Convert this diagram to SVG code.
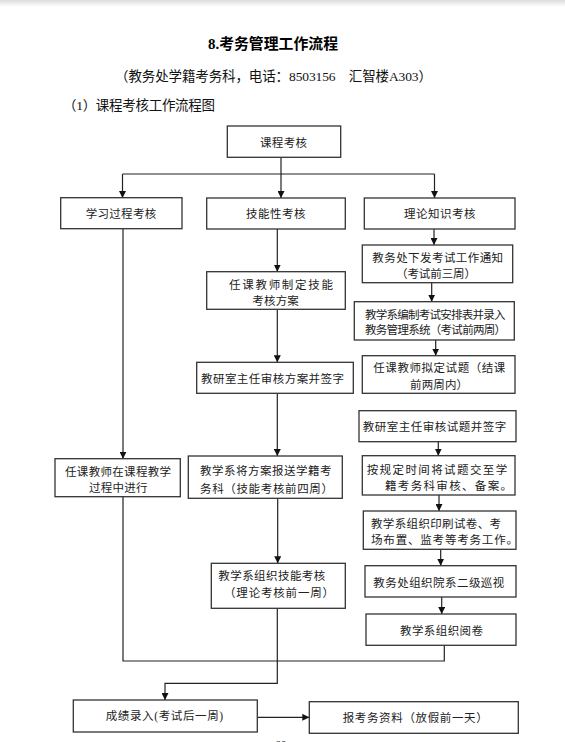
<svg xmlns="http://www.w3.org/2000/svg" width="565" height="742" viewBox="0 0 565 742">
<defs>
<linearGradient id="shade" x1="0" y1="0" x2="0" y2="1">
<stop offset="0" stop-color="#dcdcdc"/>
<stop offset="1" stop-color="#ffffff"/>
</linearGradient>
<marker id="arr" markerUnits="userSpaceOnUse" markerWidth="7" markerHeight="7" refX="7" refY="3.5" orient="auto">
<path d="M0,0 L7,3.5 L0,7 z" fill="#111"/>
</marker>
<style>
.box{fill:#fff;stroke:#333;stroke-width:1.3}
.t{font-family:"Liberation Serif","Noto Sans CJK SC",serif;font-size:11.5px;fill:#222}
.c{fill:none;stroke:#222;stroke-width:1.2}
.a{fill:none;stroke:#222;stroke-width:1.2;marker-end:url(#arr)}
.h1{font-family:"Liberation Serif","Noto Sans CJK SC",serif;font-size:15px;font-weight:bold;fill:#000}
.h2{font-family:"Liberation Serif","Noto Sans CJK SC",serif;font-size:13.5px;fill:#111}
</style>
</defs>
<rect x="0" y="0" width="565" height="742" fill="#fff"/>
<rect x="0" y="0" width="565" height="7" fill="url(#shade)"/>

<g id="header">
<text class="h1" x="208" y="48.5" textLength="130" lengthAdjust="spacingAndGlyphs">8.考务管理工作流程</text>
<text class="h2" x="115" y="81" textLength="317" lengthAdjust="spacing">（教务处学籍考务科，电话：8503156　汇智楼A303）</text>
<text class="h2" x="63" y="110" textLength="152" lengthAdjust="spacing">（1）课程考核工作流程图</text>
</g>

<g id="connectors">
<path class="c" d="M281,157 V174 M122.5,174 H434.5"/>
<path class="a" d="M122.5,174 V198"/>
<path class="a" d="M281,174 V198"/>
<path class="a" d="M434.5,174 V198"/>
<path class="a" d="M123,229 V458.7"/>
<path class="c" d="M123,497 V661 H444.3 V645.3"/>
<path class="a" d="M277.3,229 V271.7"/>
<path class="a" d="M277.3,309.3 V362.3"/>
<path class="a" d="M277.3,393.3 V456"/>
<path class="a" d="M277.7,498.3 V563.3"/>
<path class="a" d="M277.3,608.3 V683.3 H165 V700"/>
<path class="a" d="M434,229 V245"/>
<path class="a" d="M431.7,282.7 V301.7"/>
<path class="a" d="M435.7,340 V355.7"/>
<path class="a" d="M438.3,441.7 V455.7"/>
<path class="a" d="M439,495 V511"/>
<path class="a" d="M440.7,549.3 V565.7"/>
<path class="a" d="M441.7,597 V614"/>
<path class="a" d="M257.3,717.3 H309.3"/>
</g>

<g id="n-root">
<rect class="box" x="227.3" y="126" width="113.4" height="31.3"/>
<text class="t" x="260" y="146.7" textLength="47" lengthAdjust="spacing">课程考核</text>
</g>
<g id="n-learn">
<rect class="box" x="60.7" y="197.7" width="121.3" height="31"/>
<text class="t" x="85.7" y="218" textLength="70.5" lengthAdjust="spacing">学习过程考核</text>
</g>
<g id="n-skill">
<rect class="box" x="206.7" y="198" width="138.6" height="31"/>
<text class="t" x="246" y="218" textLength="59.5" lengthAdjust="spacing">技能性考核</text>
</g>
<g id="n-theory">
<rect class="box" x="364.3" y="198" width="150.7" height="31"/>
<text class="t" x="404" y="218" textLength="71.5" lengthAdjust="spacing">理论知识考核</text>
</g>

<g id="n-notice">
<rect class="box" x="362.3" y="245" width="150.4" height="37.7"/>
<text class="t" x="372.3" y="262" textLength="130.8" lengthAdjust="spacing">教务处下发考试工作通知</text>
<text class="t" x="396" y="278" textLength="80" lengthAdjust="spacing">（考试前三周）</text>
</g>
<g id="n-schedule">
<rect class="box" x="354.3" y="301.7" width="160" height="38.3"/>
<text class="t" x="365" y="319" textLength="140.5" lengthAdjust="spacing">教学系编制考试安排表并录入</text>
<text class="t" x="365" y="334" textLength="141" lengthAdjust="spacing">教务管理系统（考试前两周）</text>
</g>
<g id="n-draft">
<rect class="box" x="362.3" y="355.7" width="152.7" height="37.6"/>
<text class="t" x="373.3" y="372" textLength="132" lengthAdjust="spacing">任课教师拟定试题（结课</text>
<text class="t" x="410" y="389" textLength="58" lengthAdjust="spacing">前两周内）</text>
</g>
<g id="n-review-paper">
<rect class="box" x="359" y="410.7" width="157" height="31"/>
<text class="t" x="362.7" y="431" textLength="143.5" lengthAdjust="spacing">教研室主任审核试题并签字</text>
</g>
<g id="n-submit">
<rect class="box" x="362.3" y="455.7" width="152.7" height="39.3"/>
<text class="t" x="366.7" y="474" textLength="140.5" lengthAdjust="spacing">按规定时间将试题交至学</text>
<text class="t" x="385" y="490" textLength="127" lengthAdjust="spacing">籍考务科审核、备案。</text>
</g>
<g id="n-print">
<rect class="box" x="363.3" y="511" width="152.7" height="38.3"/>
<text class="t" x="371" y="528" textLength="130" lengthAdjust="spacing">教学系组织印刷试卷、考</text>
<text class="t" x="371" y="544" textLength="147" lengthAdjust="spacing">场布置、监考等考务工作。</text>
</g>
<g id="n-patrol">
<rect class="box" x="365" y="565.7" width="151" height="31.3"/>
<text class="t" x="373.3" y="586.7" textLength="131" lengthAdjust="spacing">教务处组织院系二级巡视</text>
</g>
<g id="n-grade">
<rect class="box" x="366" y="614" width="150" height="31.3"/>
<text class="t" x="400" y="634.7" textLength="83" lengthAdjust="spacing">教学系组织阅卷</text>
</g>

<g id="n-plan">
<rect class="box" x="206.7" y="271.7" width="138.6" height="37.6"/>
<text class="t" x="229" y="289" textLength="104" lengthAdjust="spacing">任课教师制定技能</text>
<text class="t" x="252.3" y="305" textLength="46.5" lengthAdjust="spacing">考核方案</text>
</g>
<g id="n-review-plan">
<rect class="box" x="196.7" y="362.3" width="156.6" height="31"/>
<text class="t" x="201" y="383" textLength="143" lengthAdjust="spacing">教研室主任审核方案并签字</text>
</g>
<g id="n-report">
<rect class="box" x="188.3" y="456" width="154" height="42.3"/>
<text class="t" x="200" y="475" textLength="131.5" lengthAdjust="spacing">教学系将方案报送学籍考</text>
<text class="t" x="200" y="493" textLength="133" lengthAdjust="spacing">务科（技能考核前四周）</text>
</g>
<g id="n-skill-exam">
<rect class="box" x="211.3" y="563.3" width="134" height="45"/>
<text class="t" x="218.3" y="580" textLength="107" lengthAdjust="spacing">教学系组织技能考核</text>
<text class="t" x="224" y="596.7" textLength="110" lengthAdjust="spacing">（理论考核前一周）</text>
</g>

<g id="n-process">
<rect class="box" x="55" y="458.7" width="125.3" height="38"/>
<text class="t" x="65" y="475.7" textLength="106" lengthAdjust="spacing">任课教师在课程教学</text>
<text class="t" x="89" y="492.3" textLength="58.5" lengthAdjust="spacing">过程中进行</text>
</g>

<g id="n-score">
<rect class="box" x="73.3" y="700" width="184" height="32"/>
<text class="t" x="105.7" y="719.7" textLength="117.5" lengthAdjust="spacing">成绩录入(考试后一周)</text>
</g>
<g id="n-archive">
<rect class="box" x="309.3" y="701.7" width="209" height="31.6"/>
<text class="t" x="342.7" y="722.3" textLength="145" lengthAdjust="spacing">报考务资料（放假前一天）</text>
</g>

<text class="t" x="275" y="749" font-size="11">60</text>
</svg>
